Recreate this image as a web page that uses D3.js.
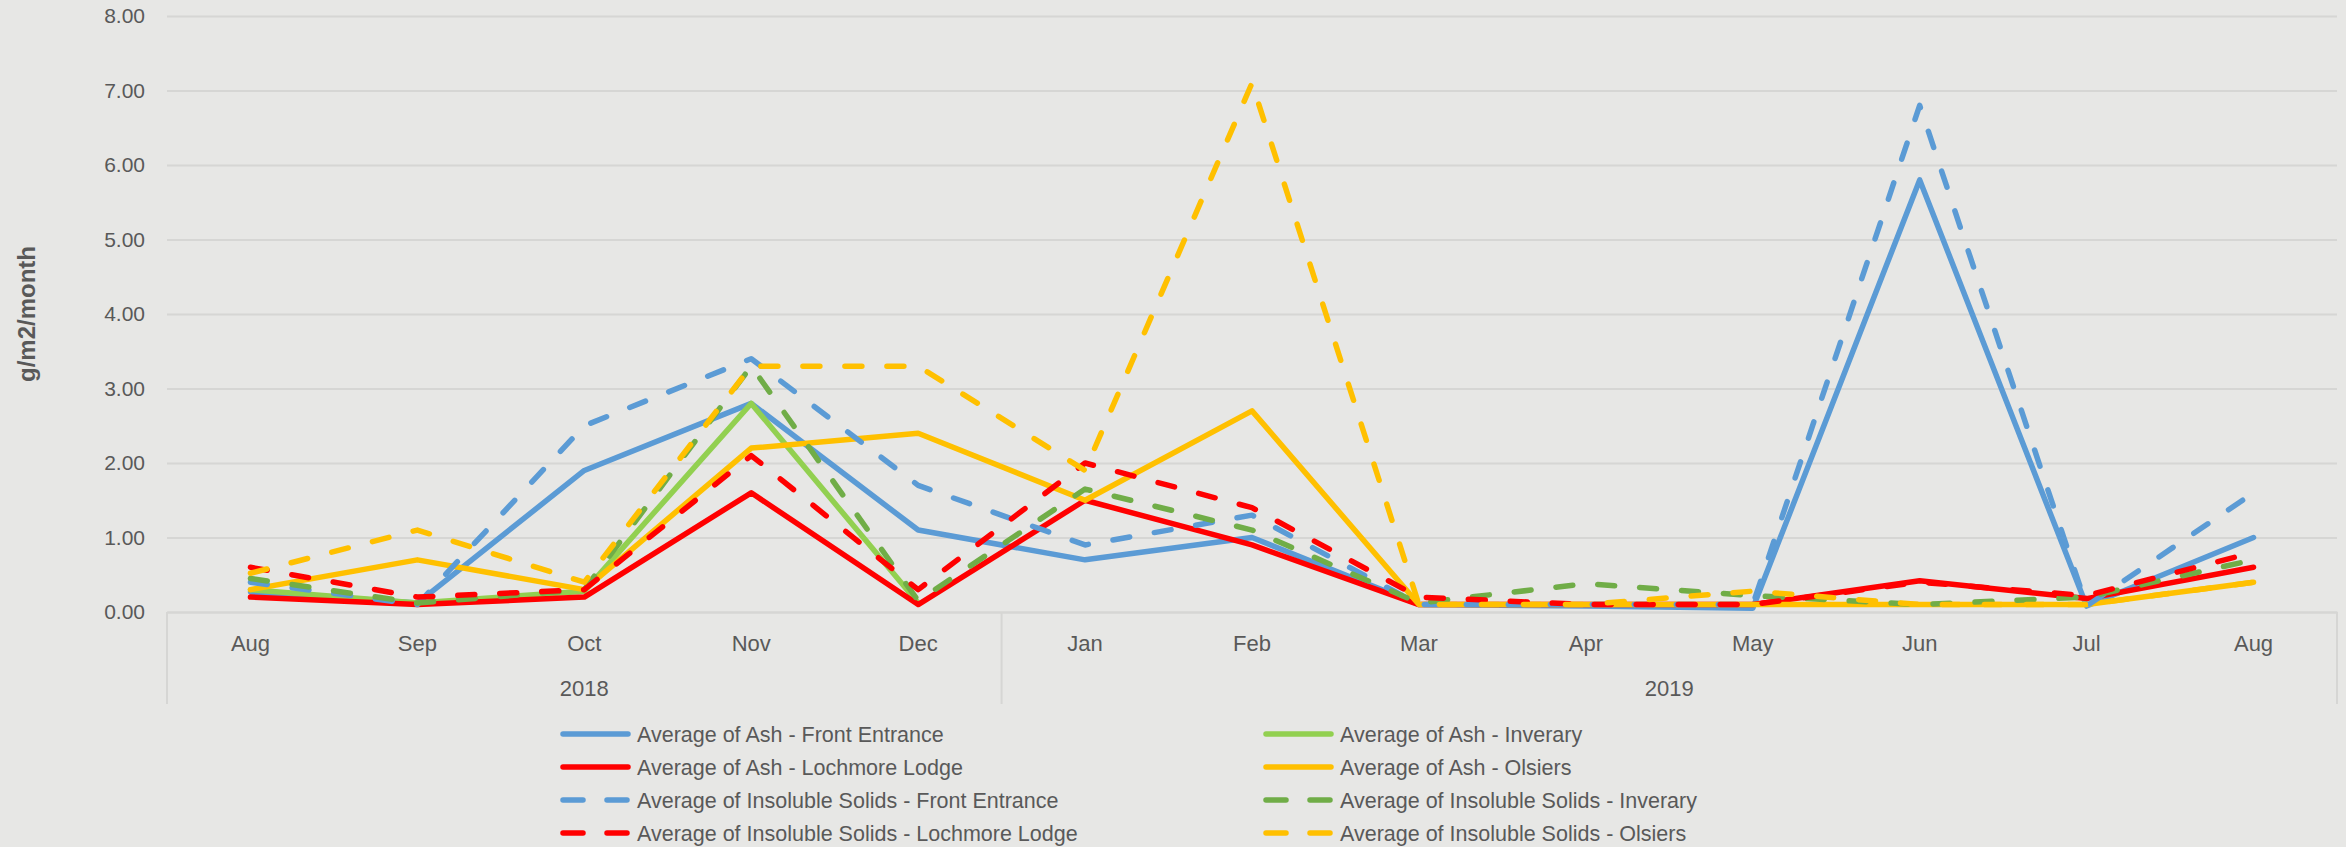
<!DOCTYPE html>
<html>
  <head>
    <script src="https://d3js.org/d3.v7.min.js"></script>
    <style>
      body { margin: 0; background: #e7e7e5; }
      text { font-family: "Liberation Sans", Arial, sans-serif; fill: #595959; }
    </style>
  </head>
  <body>
    <svg width="2346" height="847"></svg>
    <script>

      // data
      const months = ["Aug", "Sep", "Oct", "Nov", "Dec", "Jan", "Feb", "Mar", "Apr", "May", "Jun", "Jul", "Aug"];
      const years = [{ label: "2018", from: 0, to: 5 }, { label: "2019", from: 5, to: 13 }];
      const yTicks = [0, 1, 2, 3, 4, 5, 6, 7, 8];

      const ashFront = [0.27, 0.12, 1.9, 2.8, 1.1, 0.7, 1.0, 0.1, 0.08, 0.05, 5.8, 0.08, 1.0];
      const ashInverary = [0.3, 0.12, 0.28, 2.8, 0.12, null, null, null, null, null, null, null, null];
      const ashLochmore = [0.2, 0.1, 0.2, 1.6, 0.1, 1.5, 0.9, 0.1, 0.1, 0.1, 0.42, 0.18, 0.6];
      const ashOlsiers = [0.3, 0.7, 0.3, 2.2, 2.4, 1.5, 2.7, 0.1, 0.1, 0.1, 0.1, 0.1, 0.4];
      const insFront = [0.4, 0.1, 2.5, 3.4, 1.7, 0.9, 1.3, 0.1, 0.1, 0.1, 6.8, 0.08, 1.6];
      const insInverary = [0.45, 0.12, 0.3, 3.3, 0.15, 1.65, 1.1, 0.12, 0.38, 0.22, 0.1, 0.2, 0.7];
      const insLochmore = [0.6, 0.2, 0.3, 2.1, 0.3, 2.0, 1.4, 0.2, 0.1, 0.1, 0.4, 0.22, 0.8];
      const insOlsiers = [0.52, 1.1, 0.4, 3.3, 3.3, 1.9, 7.1, 0.1, 0.1, 0.28, 0.1, 0.1, 0.4];

      const series = [
        { name: "Average of Ash - Front Entrance", values: ashFront, color: "#5b9bd5", dash: false },
        { name: "Average of Ash - Inverary", values: ashInverary, color: "#92d050", dash: false },
        { name: "Average of Ash - Lochmore Lodge", values: ashLochmore, color: "#ff0000", dash: false },
        { name: "Average of Ash - Olsiers", values: ashOlsiers, color: "#ffc000", dash: false },
        { name: "Average of Insoluble Solids - Front Entrance", values: insFront, color: "#5b9bd5", dash: true },
        { name: "Average of Insoluble Solids - Inverary", values: insInverary, color: "#70ad47", dash: true },
        { name: "Average of Insoluble Solids - Lochmore Lodge", values: insLochmore, color: "#ff0000", dash: true },
        { name: "Average of Insoluble Solids - Olsiers", values: insOlsiers, color: "#ffc000", dash: true }
      ];

      const plotLeft = 167, plotRight = 2337, plotTop = 16, plotBottom = 612;
      const svg = d3.select("svg");

      const x = d3.scaleBand()
          .domain(d3.range(months.length))
          .range([plotLeft, plotRight]);

      const y = d3.scaleLinear()
          .domain([0, 8])
          .range([plotBottom, plotTop]);

      // gridlines + y labels
      const yAxis = svg.append("g")
          .attr("transform", `translate(${plotLeft}, 0)`)
          .call(d3.axisLeft(y).tickValues(yTicks).tickFormat(d3.format(".2f"))
            .tickSize(-(plotRight - plotLeft)).tickPadding(22));
      yAxis.select(".domain").remove();
      yAxis.selectAll(".tick line").attr("stroke", "#d6d6d4").attr("stroke-width", 2);
      yAxis.selectAll(".tick text").style("font-size", "21px").style("font-family", "'Liberation Sans', Arial, sans-serif").attr("fill", "#595959");

      svg.append("text")
          .attr("transform", `translate(35, ${(plotTop + plotBottom) / 2}) rotate(-90)`)
          .attr("text-anchor", "middle")
          .style("font-size", "24px")
          .style("font-weight", "bold")
          .text("g/m2/month");

      // x axis, two levels
      const xAxis = svg.append("g")
          .attr("transform", `translate(0, ${plotBottom})`)
          .call(d3.axisBottom(x).tickFormat(i => months[i]).tickSize(0).tickPadding(23));
      xAxis.select(".domain").attr("stroke", "#d6d6d4").attr("stroke-width", 2);
      xAxis.selectAll(".tick text").style("font-size", "22px").style("font-family", "'Liberation Sans', Arial, sans-serif").attr("fill", "#595959");

      const sep = [0, 5, 13].map(i => i < months.length ? x(i) : plotRight);
      svg.selectAll(".sep")
        .data(sep)
        .enter()
        .append("line")
        .attr("x1", d => d).attr("x2", d => d)
        .attr("y1", plotBottom).attr("y2", 704)
        .attr("stroke", "#d6d6d4").attr("stroke-width", 2);

      svg.selectAll(".year")
        .data(years)
        .enter()
        .append("text")
        .attr("x", d => (x(d.from) + (d.to < months.length ? x(d.to) : plotRight)) / 2)
        .attr("y", 696)
        .attr("text-anchor", "middle")
        .style("font-size", "22px")
        .text(d => d.label);

      // lines
      const line = d3.line()
          .defined(d => d != null)
          .x((d, i) => x(i) + x.bandwidth() / 2)
          .y(d => y(d));

      svg.selectAll(".series")
        .data(series)
        .enter()
        .append("path")
        .attr("d", s => line(s.values))
        .attr("fill", "none")
        .attr("stroke", s => s.color)
        .attr("stroke-width", 5.5)
        .attr("stroke-linejoin", "round")
        .attr("stroke-linecap", "round")
        .attr("stroke-dasharray", s => s.dash ? "17,25" : null);

      // legend
      const legend = svg.selectAll(".legend")
        .data(series)
        .enter()
        .append("g")
        .attr("transform", (s, i) => `translate(${i % 2 ? 1263 : 560}, ${734 + Math.floor(i / 2) * 33})`);

      legend.append("line")
        .attr("x1", 3).attr("x2", 68)
        .attr("stroke", s => s.color)
        .attr("stroke-width", 5.5)
        .attr("stroke-linecap", "round")
        .attr("stroke-dasharray", s => s.dash ? "20,24" : null);

      legend.append("text")
        .attr("x", 77)
        .attr("y", 7.5)
        .style("font-size", "21.5px")
        .text(s => s.name);

    </script>
  </body>
</html>
